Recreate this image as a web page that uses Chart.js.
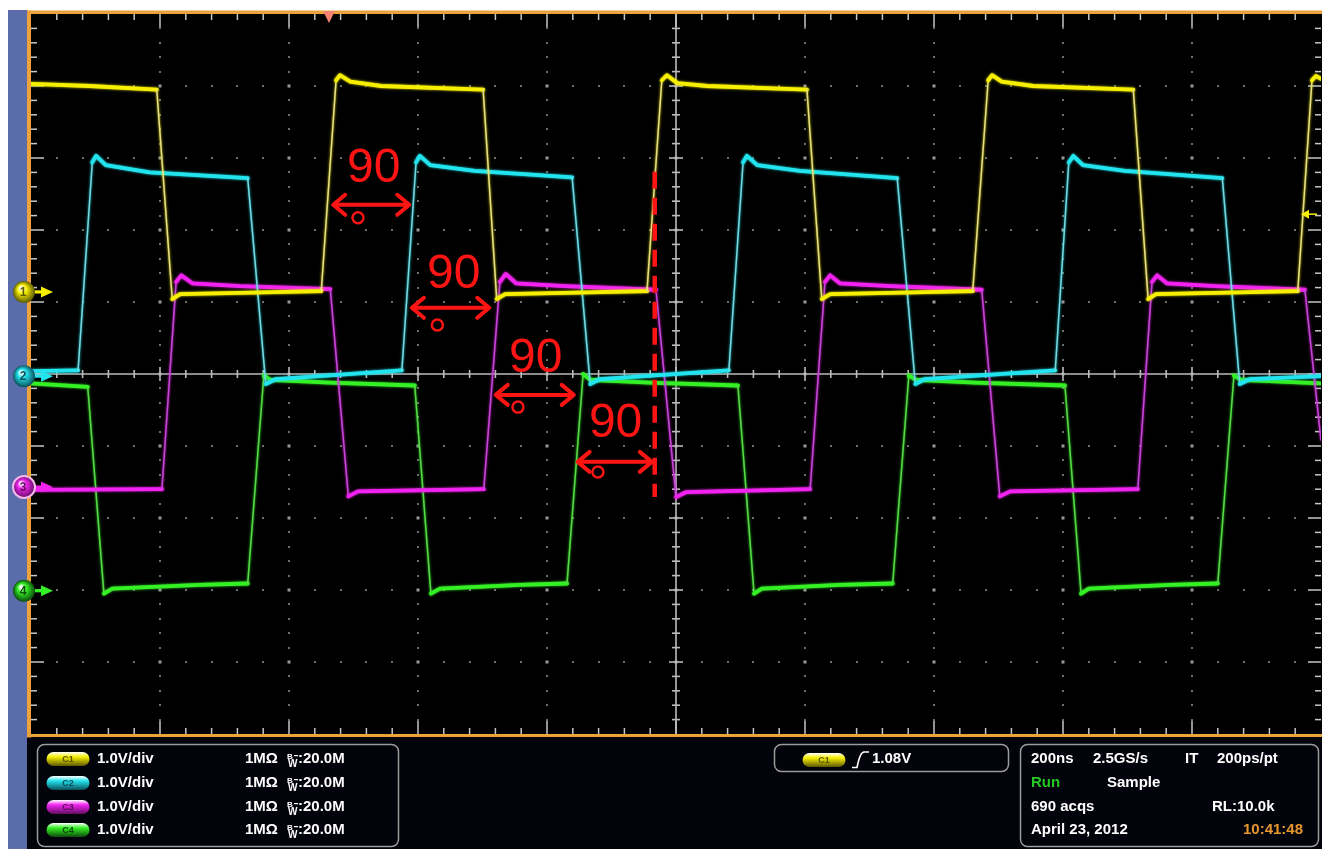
<!DOCTYPE html>
<html>
<head>
<meta charset="utf-8">
<title>Four-phase clock, C1–C4</title>
<script src="https://cdn.jsdelivr.net/npm/chart.js@4.4.1/dist/chart.umd.min.js"></script>
<style>
  html, body { margin: 0; padding: 0; background: #ffffff; }
  #wrap { position: relative; width: 1322px; height: 849px; }
</style>
</head>
<body>
<div id="wrap"><canvas id="scope"></canvas></div>
<script>
// ---- acquisition: 200 ns/div horizontally, 1.0 V/div on every channel ----
const nsPerDiv = 200;
const voltsPerDiv = 1.0;
const divisionsX = 10;
const divisionsY = 10;

// C1 (yellow) – time in ns from the left edge of the record, level in volts
const c1Time = [0, 91, 195, 219, 231, 450, 473, 479, 495, 543, 701, 722, 735, 955, 978, 986, 1002, 1048, 1203, 1226, 1239, 1460, 1484, 1490, 1505, 1554, 1709, 1732, 1744, 1964, 1986, 1992, 2000];
const c1Volt = [2.89, 2.86, 2.81, -0.10, -0.03, 0.01, 2.94, 3.01, 2.92, 2.86, 2.81, -0.10, -0.03, 0.01, 2.94, 3.01, 2.90, 2.86, 2.81, -0.10, -0.03, 0.01, 2.94, 3.01, 2.92, 2.86, 2.81, -0.10, -0.03, 0.01, 2.94, 3.00, 2.96];

// C2 (cyan)
const c2Time = [0, 73, 95, 101, 116, 184, 336, 364, 380, 575, 597, 603, 619, 688, 839, 867, 882, 1082, 1104, 1110, 1126, 1192, 1343, 1371, 1386, 1588, 1609, 1616, 1631, 1696, 1847, 1874, 1890, 2000];
const c2Volt = [0.07, 0.08, 2.97, 3.06, 2.93, 2.83, 2.75, -0.11, -0.04, 0.08, 2.97, 3.06, 2.93, 2.85, 2.76, -0.11, -0.04, 0.08, 2.97, 3.06, 2.93, 2.85, 2.75, -0.11, -0.04, 0.08, 2.97, 3.06, 2.93, 2.85, 2.75, -0.11, -0.04, 0.00];

// C3 (magenta)
const c3Time = [0, 203, 225, 233, 250, 324, 464, 492, 507, 702, 727, 736, 752, 828, 969, 1000, 1016, 1208, 1231, 1239, 1254, 1332, 1474, 1502, 1518, 1716, 1738, 1746, 1761, 1836, 1975, 2000];
const c3Volt = [-0.04, -0.03, 2.85, 2.94, 2.83, 2.79, 2.75, -0.13, -0.06, -0.03, 2.85, 2.96, 2.83, 2.79, 2.74, -0.14, -0.07, -0.03, 2.85, 2.94, 2.83, 2.79, 2.74, -0.13, -0.06, -0.03, 2.85, 2.94, 2.83, 2.79, 2.74, 0.65];

// C4 (green)
const c4Time = [0, 88, 113, 126, 262, 336, 361, 371, 464, 595, 620, 634, 758, 831, 856, 867, 960, 1096, 1121, 1133, 1254, 1336, 1361, 1372, 1464, 1603, 1628, 1640, 1766, 1840, 1865, 1876, 2000];
const c4Volt = [2.88, 2.83, -0.04, 0.03, 0.08, 0.10, 2.99, 2.93, 2.89, 2.85, -0.04, 0.03, 0.08, 0.10, 3.01, 2.93, 2.89, 2.85, -0.04, 0.03, 0.08, 0.10, 2.99, 2.93, 2.89, 2.85, -0.04, 0.03, 0.08, 0.10, 2.99, 2.93, 2.88];

// channel setup: ground-reference position (divisions from screen centre) and colours
const channels = [
  { name: 'C1', num: '1', time: c1Time, volt: c1Volt, position: 1.14,  color: '#f6f000', edge: '#e6de8c', dark: '#5c5800', ring: null },
  { name: 'C2', num: '2', time: c2Time, volt: c2Volt, position: -0.03, color: '#22e4ee', edge: '#7ad6de', dark: '#0b4f5a', ring: null },
  { name: 'C3', num: '3', time: c3Time, volt: c3Volt, position: -1.57, color: '#f222f0', edge: '#c048d6', dark: '#5e0f5e', ring: '#f6b8ec' },
  { name: 'C4', num: '4', time: c4Time, volt: c4Volt, position: -3.01, color: '#34f024', edge: '#58d848', dark: '#0c4c0c', ring: null }
];

// trigger: C1 rising edge at 1.08 V, trigger point 462 ns into the record
const triggerLevelV = 1.08;
const triggerTimeNs = 462;

// phase-step markers: arrow span (ns), arrow level (div), label, degree ring
const phaseLabels = ['90', '90', '90', '90'];
const phaseArrowFrom = [467, 589, 719, 846];
const phaseArrowTo   = [588, 712, 843, 964];
const phaseArrowDiv  = [2.35, 0.92, -0.29, -1.22];
const phaseTextNs    = [490, 614, 741, 865];
const phaseTextDiv   = [2.67, 1.19, 0.03, -0.88];
const phaseRingNs    = [507, 630, 755, 879];
const phaseRingDiv   = [2.17, 0.68, -0.46, -1.36];
const cursorNs = 967;
const cursorFromDiv = 2.81;
const cursorToDiv = -1.71;

// readouts
const channelScale = ['1.0V/div', '1.0V/div', '1.0V/div', '1.0V/div'];
const channelCoupling = ['1MΩ', '1MΩ', '1MΩ', '1MΩ'];
const channelBandwidth = [':20.0M', ':20.0M', ':20.0M', ':20.0M'];
const statusRows = [
  [['200ns', 1031, '#ffffff'], ['2.5GS/s', 1093, '#ffffff'], ['IT', 1185, '#ffffff'], ['200ps/pt', 1217, '#ffffff']],
  [['Run', 1031, '#26c826'], ['Sample', 1107, '#ffffff']],
  [['690 acqs', 1031, '#ffffff'], ['RL:10.0k', 1212, '#ffffff']],
  [['April 23, 2012', 1031, '#ffffff'], ['10:41:48', 1243, '#e8962e']]
];

const FONT = "'Liberation Sans', Arial, sans-serif";

function roundRect(ctx, x, y, w, h, r) {
  ctx.beginPath();
  ctx.moveTo(x + r, y);
  ctx.lineTo(x + w - r, y);
  ctx.arcTo(x + w, y, x + w, y + r, r);
  ctx.lineTo(x + w, y + h - r);
  ctx.arcTo(x + w, y + h, x + w - r, y + h, r);
  ctx.lineTo(x + r, y + h);
  ctx.arcTo(x, y + h, x, y + h - r, r);
  ctx.lineTo(x, y + r);
  ctx.arcTo(x, y, x + r, y, r);
  ctx.closePath();
}

function seg(ctx, x1, y1, x2, y2) {
  ctx.beginPath(); ctx.moveTo(x1, y1); ctx.lineTo(x2, y2); ctx.stroke();
}

function pill(ctx, cx, cy, w, h, ch) {
  const g = ctx.createLinearGradient(0, cy - h / 2, 0, cy + h / 2);
  g.addColorStop(0, '#ffffff');
  g.addColorStop(0.35, ch.color);
  g.addColorStop(1, ch.dark);
  ctx.fillStyle = g;
  roundRect(ctx, cx - w / 2, cy - h / 2, w, h, h / 2);
  ctx.fill();
  ctx.fillStyle = ch.dark;
  ctx.font = 'bold 9px ' + FONT;
  ctx.textAlign = 'center';
  ctx.textBaseline = 'middle';
  ctx.fillText(ch.name, cx, cy + 0.5);
}

const scopePlugin = {
  id: 'scopeScreen',
  beforeDraw(chart) {
    const ctx = chart.ctx, a = chart.chartArea;
    const W = chart.width, H = chart.height;
    ctx.save();
    ctx.fillStyle = '#ffffff';
    ctx.fillRect(0, 0, W, H);
    // side strip and lower readout panel
    ctx.fillStyle = '#5a6daa';
    ctx.fillRect(8, 10, 20, H - 10);
    ctx.fillStyle = '#02030b';
    ctx.fillRect(27, a.bottom, W - 27, H - a.bottom);
    // screen
    ctx.fillStyle = '#000000';
    ctx.fillRect(a.left, a.top, a.right - a.left + 1, a.bottom - a.top);
    // orange bezel
    ctx.fillStyle = '#eea23c';
    ctx.fillRect(27, a.top - 3.5, W - 27, 3.5);
    ctx.fillRect(27, a.top - 3.5, 4, a.bottom - a.top + 7);
    ctx.fillRect(27, a.bottom, W - 27, 3);

    // readout boxes
    ctx.strokeStyle = '#9c9c9c';
    ctx.lineWidth = 1.5;
    roundRect(ctx, 37.5, 744.5, 361, 102, 7); ctx.stroke();
    roundRect(ctx, 774.5, 744.5, 234, 27, 7); ctx.stroke();
    roundRect(ctx, 1020.5, 744.5, 298, 102, 7); ctx.stroke();

    const rows = [759, 783, 807, 830];
    channels.forEach((ch, i) => {
      const y = rows[i];
      pill(ctx, 68, y, 43, 14, ch);
      ctx.fillStyle = '#ffffff';
      ctx.textAlign = 'left';
      ctx.textBaseline = 'middle';
      ctx.font = 'bold 15px ' + FONT;
      ctx.fillText(channelScale[i], 97, y);
      ctx.fillText(channelCoupling[i], 245, y);
      ctx.font = 'bold 8px ' + FONT;
      ctx.textBaseline = 'alphabetic';
      ctx.fillText('B', 287, y);
      ctx.font = 'bold 10px ' + FONT;
      ctx.fillText('W', 288, y + 8);
      ctx.fillRect(294, y - 4, 4, 1.2);
      ctx.textBaseline = 'middle';
      ctx.font = 'bold 15px ' + FONT;
      ctx.fillText(channelBandwidth[i], 298, y);
    });

    // trigger readout
    pill(ctx, 824, 760, 43, 14, channels[0]);
    ctx.strokeStyle = '#ffffff';
    ctx.lineWidth = 1.6;
    ctx.beginPath();
    ctx.moveTo(852, 767.5);
    ctx.lineTo(857, 767.5);
    ctx.quadraticCurveTo(860, 752, 864, 752);
    ctx.lineTo(869, 752);
    ctx.stroke();
    ctx.fillStyle = '#ffffff';
    ctx.font = 'bold 15px ' + FONT;
    ctx.textAlign = 'left';
    ctx.textBaseline = 'middle';
    ctx.fillText(triggerLevelV.toFixed(2) + 'V', 872, 759);

    // horizontal / acquisition readout
    statusRows.forEach((row, r) => {
      row.forEach(([txt, x, col]) => {
        ctx.fillStyle = col;
        ctx.fillText(txt, x, rows[r]);
      });
    });
    ctx.restore();
  },

  beforeDatasetsDraw(chart) {
    const ctx = chart.ctx, a = chart.chartArea;
    const xs = chart.scales.x, ys = chart.scales.y;
    const xMax = nsPerDiv * divisionsX;
    const minorX = nsPerDiv / 5, minorY = 0.2;
    const cx = xs.getPixelForValue(xMax / 2), cy = ys.getPixelForValue(0);
    ctx.save();
    // dotted graticule
    ctx.fillStyle = '#6e6e6e';
    for (let i = 1; i < divisionsX; i++) {
      if (i === divisionsX / 2) continue;
      const gx = Math.round(xs.getPixelForValue(i * nsPerDiv));
      for (let k = 1; k < divisionsY * 5; k++) {
        const gy = Math.round(ys.getPixelForValue(-divisionsY / 2 + k * minorY));
        ctx.fillRect(gx - 1, gy - 1, 2, 2);
      }
    }
    for (let j = 1; j < divisionsY; j++) {
      if (j === divisionsY / 2) continue;
      const gy = Math.round(ys.getPixelForValue(-divisionsY / 2 + j));
      for (let k = 1; k < divisionsX * 5; k++) {
        const gx = Math.round(xs.getPixelForValue(k * minorX));
        ctx.fillRect(gx - 1, gy - 1, 2, 2);
      }
    }
    ctx.fillStyle = '#9a9a9a';
    for (let i = 1; i < divisionsX; i++) {
      for (let j = 1; j < divisionsY; j++) {
        const gx = Math.round(xs.getPixelForValue(i * nsPerDiv));
        const gy = Math.round(ys.getPixelForValue(-divisionsY / 2 + j));
        ctx.fillRect(gx - 1.5, gy - 1.5, 3, 3);
      }
    }
    // centre cross-hair with its tick marks
    ctx.strokeStyle = '#bcbcbc';
    ctx.lineWidth = 1.6;
    seg(ctx, a.left, cy, a.right, cy);
    seg(ctx, cx, a.top, cx, a.bottom);
    for (let k = 1; k < divisionsX * 5; k++) {
      const x = xs.getPixelForValue(k * minorX);
      const len = k % 5 === 0 ? 7 : 4;
      seg(ctx, x, cy - len, x, cy + len);
    }
    for (let k = 1; k < divisionsY * 5; k++) {
      const y = ys.getPixelForValue(-divisionsY / 2 + k * minorY);
      const len = k % 5 === 0 ? 7 : 4;
      seg(ctx, cx - len, y, cx + len, y);
    }
    // ticks along the screen edges
    ctx.strokeStyle = '#c6c6c6';
    ctx.lineWidth = 1.5;
    for (let k = 1; k < divisionsX * 5; k++) {
      const x = xs.getPixelForValue(k * minorX);
      const len = k % 5 === 0 ? 13 : 6;
      seg(ctx, x, a.top, x, a.top + len);
      seg(ctx, x, a.bottom, x, a.bottom - len);
    }
    for (let k = 1; k < divisionsY * 5; k++) {
      const y = ys.getPixelForValue(-divisionsY / 2 + k * minorY);
      const len = k % 5 === 0 ? 13 : 6;
      seg(ctx, a.left, y, a.left + len, y);
      seg(ctx, a.right, y, a.right - len, y);
    }
    ctx.restore();
  },

  // soft phosphor glow around each trace
  beforeDatasetDraw(chart, args) {
    const ctx = chart.ctx;
    ctx.save();
    ctx.shadowColor = channels[args.index].color;
    ctx.shadowBlur = 2.5;
  },
  afterDatasetDraw(chart) {
    chart.ctx.restore();
  },

  afterDatasetsDraw(chart) {
    const ctx = chart.ctx, a = chart.chartArea;
    const xs = chart.scales.x, ys = chart.scales.y;
    ctx.save();

    // phase-step annotations
    const red = '#ff1414';
    ctx.strokeStyle = red;
    ctx.fillStyle = red;
    ctx.lineCap = 'round';
    ctx.lineJoin = 'round';
    phaseLabels.forEach((lbl, i) => {
      const x1 = xs.getPixelForValue(phaseArrowFrom[i]);
      const x2 = xs.getPixelForValue(phaseArrowTo[i]);
      const y = ys.getPixelForValue(phaseArrowDiv[i]);
      ctx.lineWidth = 4;
      seg(ctx, x1 + 2, y, x2 - 2, y);
      ctx.beginPath();
      ctx.moveTo(x1 + 13, y - 10); ctx.lineTo(x1 + 1, y); ctx.lineTo(x1 + 13, y + 10);
      ctx.moveTo(x2 - 13, y - 10); ctx.lineTo(x2 - 1, y); ctx.lineTo(x2 - 13, y + 10);
      ctx.stroke();
      ctx.lineWidth = 2.5;
      ctx.beginPath();
      ctx.arc(xs.getPixelForValue(phaseRingNs[i]), ys.getPixelForValue(phaseRingDiv[i]), 5.5, 0, Math.PI * 2);
      ctx.stroke();
      ctx.font = '48px ' + FONT;
      ctx.textAlign = 'left';
      ctx.textBaseline = 'alphabetic';
      ctx.fillText(lbl, xs.getPixelForValue(phaseTextNs[i]), ys.getPixelForValue(phaseTextDiv[i]));
    });
    ctx.lineCap = 'butt';
    ctx.lineWidth = 4.5;
    ctx.setLineDash([17, 9]);
    const cxp = xs.getPixelForValue(cursorNs);
    seg(ctx, cxp, ys.getPixelForValue(cursorFromDiv), cxp, ys.getPixelForValue(cursorToDiv));
    ctx.setLineDash([]);

    // trigger position marker (top) and trigger level marker (right)
    const tx = xs.getPixelForValue(triggerTimeNs);
    ctx.fillStyle = '#f4826e';
    ctx.beginPath();
    ctx.moveTo(tx - 6, a.top - 3); ctx.lineTo(tx + 6, a.top - 3); ctx.lineTo(tx, a.top + 9);
    ctx.closePath(); ctx.fill();
    const ty = ys.getPixelForValue(channels[0].position + triggerLevelV / voltsPerDiv);
    ctx.fillStyle = channels[0].color;
    ctx.strokeStyle = channels[0].color;
    ctx.lineWidth = 1.5;
    ctx.beginPath();
    ctx.moveTo(a.right - 20, ty); ctx.lineTo(a.right - 12, ty - 4.5); ctx.lineTo(a.right - 12, ty + 4.5);
    ctx.closePath(); ctx.fill();
    seg(ctx, a.right - 12, ty, a.right - 4, ty);

    // channel ground-reference markers
    channels.forEach(ch => {
      const y = ys.getPixelForValue(ch.position);
      const x = 24;
      ctx.fillStyle = ch.color;
      ctx.strokeStyle = ch.color;
      ctx.lineWidth = 3.2;
      seg(ctx, x + 8, y, a.left + 12, y);
      ctx.beginPath();
      ctx.moveTo(a.left + 10, y - 5.5); ctx.lineTo(a.left + 22, y); ctx.lineTo(a.left + 10, y + 5.5);
      ctx.closePath(); ctx.fill();
      const g = ctx.createRadialGradient(x - 3, y - 4, 1, x, y, 11);
      g.addColorStop(0, '#ffffff');
      g.addColorStop(0.35, ch.color);
      g.addColorStop(1, ch.dark);
      ctx.fillStyle = g;
      ctx.beginPath(); ctx.arc(x, y, 11, 0, Math.PI * 2); ctx.fill();
      if (ch.ring) {
        ctx.strokeStyle = ch.ring; ctx.lineWidth = 2;
        ctx.beginPath(); ctx.arc(x, y, 11, 0, Math.PI * 2); ctx.stroke();
      }
      ctx.fillStyle = ch.dark;
      ctx.font = 'bold 12px ' + FONT;
      ctx.textAlign = 'center';
      ctx.textBaseline = 'middle';
      ctx.fillText(ch.num, x - 1, y + 1);
    });
    ctx.restore();
  }
};

const steep = c => Math.abs(c.p1.parsed.y - c.p0.parsed.y) > 0.8;

const datasets = channels.map(ch => ({
  label: ch.name,
  data: ch.time.map((t, i) => ({ x: t, y: ch.volt[i] / voltsPerDiv + ch.position })),
  borderColor: ch.color,
  borderWidth: 3.8,
  pointRadius: 0,
  tension: 0,
  borderCapStyle: 'round',
  borderJoinStyle: 'round',
  segment: {
    borderWidth: c => steep(c) ? 1.5 : 3.8,
    borderColor: c => steep(c) ? ch.edge : ch.color
  }
}));

new Chart(document.getElementById('scope'), {
  type: 'line',
  data: { datasets },
  options: {
    responsive: true,
    maintainAspectRatio: false,
    devicePixelRatio: 1,
    animation: false,
    events: [],
    layout: { padding: { left: 31, top: 14, right: 1, bottom: 115 } },
    scales: {
      x: { type: 'linear', min: 0, max: nsPerDiv * divisionsX, display: false },
      y: { type: 'linear', min: -divisionsY / 2, max: divisionsY / 2, display: false }
    },
    plugins: { legend: { display: false }, tooltip: { enabled: false } }
  },
  plugins: [scopePlugin]
});
</script>
</body>
</html>
